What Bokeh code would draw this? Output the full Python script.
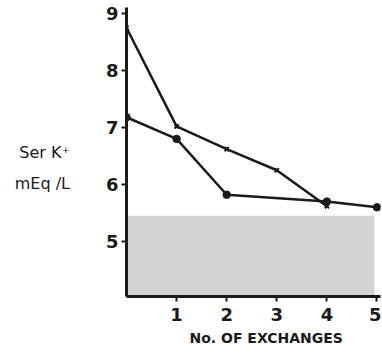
from bokeh.plotting import figure
from bokeh.models import Range1d, FixedTicker, Title
from bokeh.embed import file_html
from bokeh.resources import INLINE

# data
exchanges_a = [0, 1, 2, 4, 5]
serk_a = [7.18, 6.8, 5.82, 5.7, 5.6]
exchanges_b = [0, 1, 2, 3, 4]
serk_b = [8.75, 7.02, 6.62, 6.25, 5.62]
normal_low = 4.035
normal_high = 5.45
normal_x = [0, 4.95]
x_ticks = [1, 2, 3, 4, 5]
y_ticks = [5, 6, 7, 8, 9]

p = figure(width=381, height=356, output_backend="svg", toolbar_location=None,
           x_range=Range1d(0, 5.07), y_range=Range1d(4.035, 9.105),
           min_border_left=126, min_border_right=1, min_border_top=7, min_border_bottom=60)
p.outline_line_color = None
p.xgrid.visible = False
p.ygrid.visible = False
p.background_fill_color = "white"

p.quad(left=[normal_x[0]], right=[normal_x[1]], bottom=[normal_low], top=[normal_high],
       fill_color="#d4d4d4", line_color=None)

p.line(exchanges_a, serk_a, line_color="#1a1a1a", line_width=2.5)
p.scatter(exchanges_a, serk_a, marker="circle", size=7.5, fill_color="#1a1a1a", line_color="#1a1a1a")
p.line(exchanges_b, serk_b, line_color="#1a1a1a", line_width=2.5)
p.scatter(exchanges_b, serk_b, marker="x", size=6, line_color="#1a1a1a", line_width=2)

for ax in (p.xaxis[0], p.yaxis[0]):
    ax.axis_line_width = 3
    ax.axis_line_color = "#1a1a1a"
    ax.major_tick_line_width = 2
    ax.major_tick_line_color = "#1a1a1a"
    ax.major_tick_in = 0
    ax.major_tick_out = 5
    ax.minor_tick_line_color = None
    ax.major_label_text_font = "DejaVu Sans"
    ax.major_label_text_font_size = "18px"
    ax.major_label_text_font_style = "bold"
    ax.major_label_text_color = "#1a1a1a"

p.xaxis[0].ticker = FixedTicker(ticks=x_ticks)
p.yaxis[0].ticker = FixedTicker(ticks=y_ticks)
p.xaxis[0].major_label_standoff = 6
p.yaxis[0].major_label_standoff = 3

yax = p.yaxis[0]
yax.axis_label = "\nSer K\u207a\nmEq /L"
yax.axis_label_orientation = "horizontal"
yax.axis_label_standoff = 33
yax.axis_label_text_font = "DejaVu Sans"
yax.axis_label_text_font_size = "16px"
yax.axis_label_text_font_style = "normal"
yax.axis_label_text_color = "#1a1a1a"
yax.axis_label_text_line_height = 1.65

xt = Title(text="No. OF EXCHANGES", align="left", offset=63, standoff=8,
           text_font="DejaVu Sans", text_font_size="14px", text_font_style="bold",
           text_color="#1a1a1a")
p.add_layout(xt, "below")

open("out.html", "w").write(file_html(p, INLINE))
